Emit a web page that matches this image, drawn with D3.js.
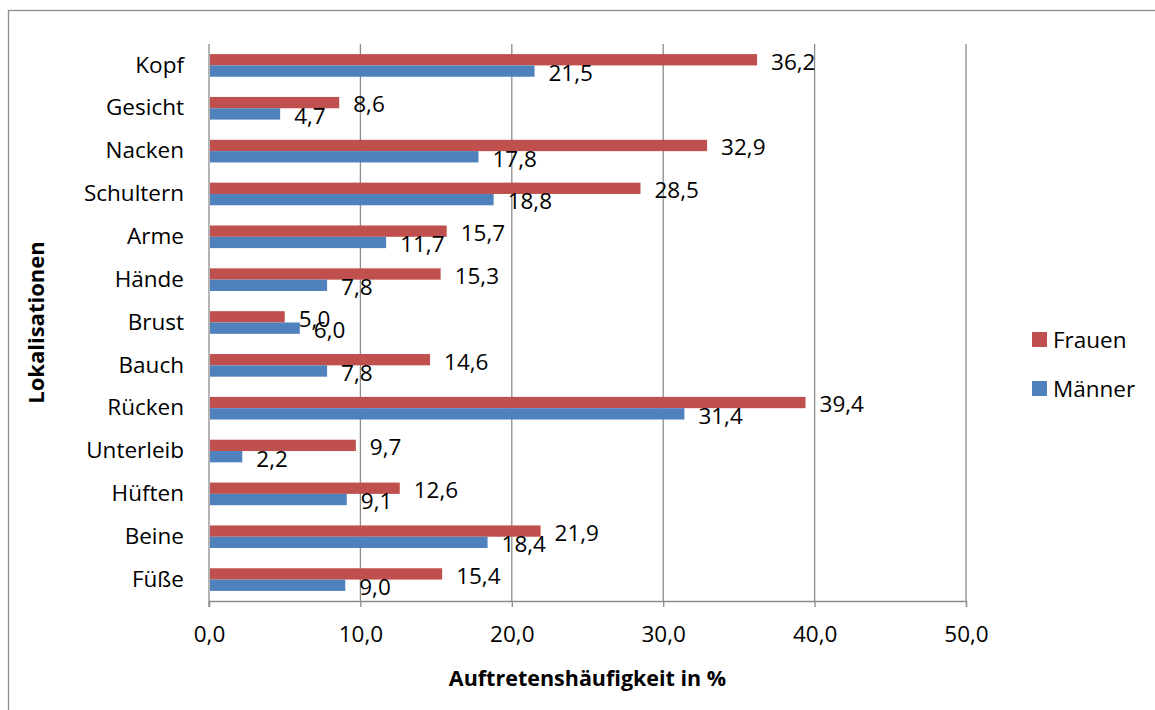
<!DOCTYPE html>
<html>
<head>
<meta charset="utf-8">
<script src="https://cdn.jsdelivr.net/npm/d3@7"></script>
<style>
  body { margin: 0; background: #fff; }
  svg { font-family: "Open Sans", sans-serif; }
</style>
</head>
<body>
<div id="chart"></div>
<script>
// Data
const categories = ['Kopf', 'Gesicht', 'Nacken', 'Schultern', 'Arme', 'Hände', 'Brust',
  'Bauch', 'Rücken', 'Unterleib', 'Hüften', 'Beine', 'Füße'];
const frauen = [36.2, 8.6, 32.9, 28.5, 15.7, 15.3, 5.0, 14.6, 39.4, 9.7, 12.6, 21.9, 15.4];
const maenner = [21.5, 4.7, 17.8, 18.8, 11.7, 7.8, 6.0, 7.8, 31.4, 2.2, 9.1, 18.4, 9.0];
const xTicks = [0, 10, 20, 30, 40, 50];
const seriesNames = ['Frauen', 'Männer'];
const seriesColors = ['#C0504D', '#4F81BD'];

const width = 1155, height = 710;
const margin = { top: 44, right: 189, bottom: 109, left: 209 };
const font = '"Open Sans", sans-serif';
const fontSize = 22.5;

const svg = d3.select('#chart').append('svg')
  .attr('width', width)
  .attr('height', height);

// Outer chart border
svg.append('rect')
  .attr('x', 8.5).attr('y', 10.5)
  .attr('width', 1160).attr('height', 720)
  .attr('fill', 'none')
  .attr('stroke', '#8c8c8c')
  .attr('stroke-width', 1.3);

const x = d3.scaleLinear()
  .domain([0, 50])
  .range([margin.left, width - margin.right]);

const y = d3.scaleBand()
  .domain(categories)
  .range([margin.top, height - margin.bottom]);

const inner = d3.scaleBand()
  .domain(seriesNames)
  .range([0, y.bandwidth()])
  .paddingOuter(0.5 / 0.28 * 0.5)
  .paddingInner(0);

const fmt = v => v.toFixed(1).replace('.', ',');

// Gridlines
svg.append('g')
  .selectAll('line')
  .data(xTicks.slice(1))
  .join('line')
  .attr('x1', d => x(d)).attr('x2', d => x(d))
  .attr('y1', margin.top).attr('y2', height - margin.bottom)
  .attr('stroke', '#8c8c8c')
  .attr('stroke-width', 1.3);

// X axis
const xAxis = svg.append('g')
  .attr('transform', `translate(0,${height - margin.bottom})`)
  .call(d3.axisBottom(x).tickValues(xTicks).tickFormat(fmt).tickSize(6).tickPadding(19));
xAxis.select('.domain').attr('stroke', '#8c8c8c').attr('stroke-width', 1.3);
xAxis.selectAll('.tick line').attr('stroke', '#8c8c8c').attr('stroke-width', 1.3);
xAxis.selectAll('text').attr('font-size', fontSize).attr('fill', '#000')
  .attr('font-family', font);

// Y axis
const yAxis = svg.append('g')
  .attr('transform', `translate(${margin.left},0)`)
  .call(d3.axisLeft(y).tickSize(0).tickPadding(25));
yAxis.select('.domain').attr('stroke', '#8c8c8c').attr('stroke-width', 1.3)
  .attr('d', `M0,${margin.top}V${height - margin.bottom + 6}`);
yAxis.selectAll('text').attr('font-size', fontSize).attr('fill', '#000')
  .attr('font-family', font);

// Bars
const rows = categories.map((c, i) => ({ cat: c, values: [frauen[i], maenner[i]] }));

const groups = svg.append('g')
  .selectAll('g')
  .data(rows)
  .join('g')
  .attr('transform', d => `translate(0,${y(d.cat)})`);

groups.selectAll('rect')
  .data(d => d.values.map((v, j) => ({ v, s: seriesNames[j], c: seriesColors[j] })))
  .join('rect')
  .attr('x', x(0) + 1)
  .attr('y', d => inner(d.s))
  .attr('width', d => x(d.v) - x(0) - 1)
  .attr('height', inner.bandwidth())
  .attr('fill', d => d.c);

// Data labels
groups.selectAll('text')
  .data(d => d.values.map((v, j) => ({ v, s: seriesNames[j] })))
  .join('text')
  .attr('x', d => x(d.v) + 14)
  .attr('y', d => inner(d.s) + inner.bandwidth() / 2 + 2)
  .attr('dy', '0.35em')
  .attr('font-size', fontSize)
  .attr('fill', '#000')
  .text(d => fmt(d.v));

// Axis titles
svg.append('text')
  .attr('transform', `translate(44,${(margin.top + height - margin.bottom) / 2}) rotate(-90)`)
  .attr('text-anchor', 'middle')
  .attr('font-size', 22)
  .attr('font-weight', 'bold')
  .text('Lokalisationen');

svg.append('text')
  .attr('x', (x(0) + x(50)) / 2)
  .attr('y', 686)
  .attr('text-anchor', 'middle')
  .attr('font-size', 21.5)
  .attr('font-weight', 'bold')
  .text('Auftretenshäufigkeit in %');

// Legend
const legend = svg.append('g')
  .selectAll('g')
  .data(seriesNames)
  .join('g')
  .attr('transform', (d, i) => `translate(1032,${332 + i * 49})`);

legend.append('rect')
  .attr('width', 15).attr('height', 15)
  .attr('fill', (d, i) => seriesColors[i]);

legend.append('text')
  .attr('x', 21).attr('y', 8)
  .attr('dy', '0.35em')
  .attr('font-size', fontSize)
  .text(d => d);
</script>
</body>
</html>
